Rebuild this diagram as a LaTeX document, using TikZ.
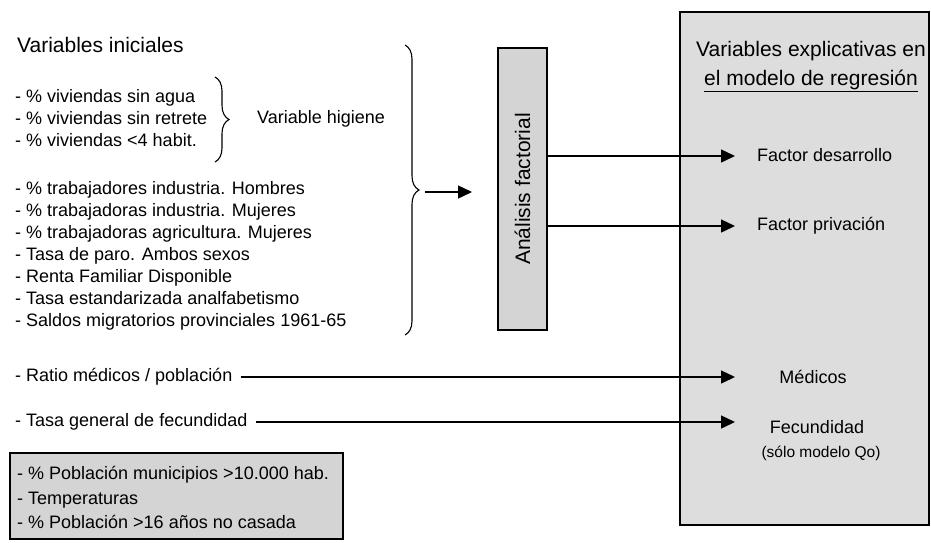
\documentclass[tikz,border=0pt]{standalone}
\usepackage{fontspec}
\setmainfont{Liberation Sans}
\usetikzlibrary{arrows.meta,decorations.pathreplacing}
\definecolor{boxgray}{HTML}{D4D4D4}
\definecolor{modelgray}{HTML}{DDDDDD}

\begin{document}
\begin{tikzpicture}[x=1pt, y=-1pt,
    txt/.style={inner sep=0pt, anchor=west, align=left, font=\fontsize{18}{22}\selectfont},
    head/.style={inner sep=0pt, font=\fontsize{21}{29}\selectfont},
    arr/.style={line width=1.4pt, -{Triangle[length=14pt,width=13pt]}},
    brc/.style={decorate, line width=1.1pt},
    graybox/.style={draw, line width=1.3pt, fill=boxgray}]
    \useasboundingbox (0,0) rectangle (931,542);

    % Boxes
    \draw[graybox, fill=modelgray] (680,12) rectangle (929,525);
    \draw[graybox] (10,453) rectangle (343,539);
    \node[graybox, minimum width=49pt, minimum height=282pt, inner sep=0pt,
          font=\fontsize{21}{25}\selectfont] (af) at (522.5,189) {\rotatebox{90}{Análisis factorial}};

    % Initial variables
    \node[head, anchor=west] (ini) at (17,45) {Variables iniciales};
    \node[txt] (hig) at (15,118.5) {- \% viviendas sin agua\\- \% viviendas sin retrete\\- \% viviendas <4 habit.};
    \node[txt] (higvar) at (257,119) {Variable higiene};
    \node[txt] (soc) at (15,255.5) {- \% trabajadores industria. Hombres\\
        - \% trabajadoras industria. Mujeres\\
        - \% trabajadoras agricultura. Mujeres\\
        - Tasa de paro. Ambos sexos\\
        - Renta Familiar Disponible\\
        - Tasa estandarizada analfabetismo\\
        - Saldos migratorios provinciales 1961-65};
    \node[txt] (ratio) at (15,377) {- Ratio médicos / población};
    \node[txt] (tasa) at (15,422) {- Tasa general de fecundidad};
    \node[txt, font=\fontsize{18}{24.5}\selectfont] (otras) at (17,497.5) {- \% Población municipios >10.000 hab.\\
        - Temperaturas\\
        - \% Población >16 años no casada};

    % Braces
    \draw[brc, decoration={brace, amplitude=14pt}] (215,77) -- (215,162);
    \draw[brc, decoration={brace, amplitude=14pt}] (405,45) -- (405,335);

    % Explanatory variables
    \node[head, align=center] (titulo) at (811,67) {Variables explicativas en\\ \underline{el modelo de regresión}};
    \node[txt] (fdes) at (757,155) {Factor desarrollo};
    \node[txt] (fpriv) at (757,226) {Factor privación};
    \node[txt, anchor=center] (med) at (813,377) {Médicos};
    \node[txt, anchor=center] (fec) at (817,427) {Fecundidad};
    \node[inner sep=0pt, font=\fontsize{15.5}{18}\selectfont] (solo) at (821,453) {(sólo modelo Qo)};

    % Arrows
    \coordinate (bt) at (425,192);
    \coordinate (bh) at (472,192);
    \coordinate (tip) at (735,0);
    \draw[arr] (bt) -- (bh);
    \draw[arr] (af.east |- 0,156) -- (tip |- 0,156);
    \draw[arr] (af.east |- 0,226) -- (tip |- 0,226);
    \draw[arr] ([xshift=8pt]ratio.east) -- (tip |- ratio);
    \draw[arr] ([xshift=8pt]tasa.east) -- (tip |- tasa);
\end{tikzpicture}
\end{document}
